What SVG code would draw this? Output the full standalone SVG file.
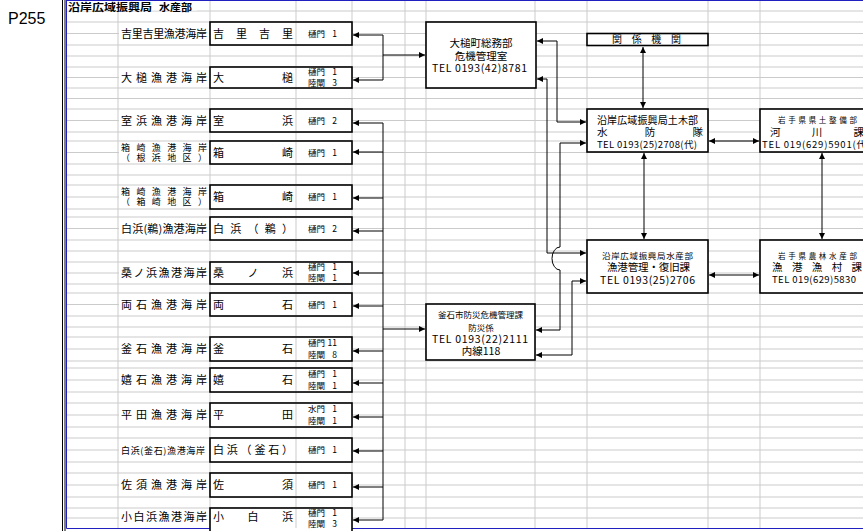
<svg xmlns="http://www.w3.org/2000/svg" width="863" height="531" viewBox="0 0 863 531">
<style>
.g{stroke:#cbcbcb;stroke-width:1;fill:none}
.box{fill:#fff;stroke:#000;stroke-width:1.6}
.cell{fill:#fff}
.t{font-family:"Noto Sans CJK JP","Noto Sans CJK SC",sans-serif;fill:#000}
.a{font-family:"Liberation Sans",Arial,sans-serif;fill:#000}
.c{stroke:#000;stroke-width:1;fill:none}
.ae{marker-end:url(#ah)}
.ab{marker-start:url(#ah);marker-end:url(#ah)}
.l{font-size:11px}
.s{font-size:8.5px}
</style>
<defs>
<marker id="ah" markerUnits="userSpaceOnUse" markerWidth="7" markerHeight="6" refX="6" refY="3" orient="auto-start-reverse"><path d="M0,0 L6,3 L0,6 z" fill="#000"/></marker>
</defs>
<rect width="863" height="531" fill="#fff"/>
<g id="grid">
<path class="g" d="M66,11H863M66,22H863M66,33.5H863M66,45H863M66,56H863M66,67H863M66,77.5H863M66,88H863M66,98.5H863M66,109H863M66,120.5H863M66,132H863M66,141H863M66,152.5H863M66,164H863M66,175H863M66,185H863M66,197H863M66,209H863M66,217H863M66,228.5H863M66,240H863M66,251H863M66,262H863M66,273H863M66,284H863M66,293H863M66,304.5H863M66,316H863M66,327H863M66,337H863M66,349H863M66,361H863M66,368H863M66,380H863M66,392H863M66,403H863M66,415H863M66,427H863M66,438H863M66,450H863M66,462H863M66,473H863M66,485H863M66,497H863M66,508H863M66,518H863"/>
<path class="g" d="M118,11V528M210,0V528M296,0V528M352,0V528M405,0V528M426,0V528M535,0V528M587,0V528M708,0V528M760,0V528"/>
<rect x="67" y="1" width="130" height="9.5" fill="#fff"/>
<path d="M62.5,0V531M65,0V531" stroke="#000" stroke-width="1"/>
<path d="M66.5,0V528.5H863M66.5,0.5H863" stroke="#2020c0" stroke-width="1" fill="none"/>
<text class="a" x="8" y="24" font-size="16">P255</text>
<text class="t" x="68" y="10.5" font-size="10" font-weight="bold" textLength="84" lengthAdjust="spacingAndGlyphs">沿岸広域振興局</text>
<text class="t" x="159" y="10.5" font-size="10" font-weight="bold" textLength="33" lengthAdjust="spacingAndGlyphs">水産部</text>
</g>
<g id="n-kirikiri">
<rect class="cell" x="119" y="23" width="90" height="21"/>
<text class="t l" x="121" y="37.7" textLength="86" lengthAdjust="spacing">吉里吉里漁港海岸</text>
<rect class="box" x="210" y="22" width="142" height="23"/><path class="g" d="M296,23V44"/>
<text class="t l" x="213" y="37.7" textLength="80" lengthAdjust="spacing">吉里吉里</text>
<text class="t s" x="308" y="36.7">樋門</text><text class="t s" x="337" y="36.7" text-anchor="end">1</text>
</g>
<g id="n-otsuchi">
<rect class="cell" x="119" y="68" width="90" height="19"/>
<text class="t l" x="121" y="81.7" textLength="86" lengthAdjust="spacing">大槌漁港海岸</text>
<rect class="box" x="210" y="67" width="142" height="21"/><path class="g" d="M296,68V87"/>
<text class="t l" x="213" y="81.7" textLength="80" lengthAdjust="spacing">大槌</text>
<text class="t s" x="308" y="74.7">樋門</text><text class="t s" x="337" y="74.7" text-anchor="end">1</text>
<text class="t s" x="308" y="86">陸閘</text><text class="t s" x="337" y="86" text-anchor="end">3</text>
</g>
<g id="n-murohama">
<rect class="cell" x="119" y="110" width="90" height="21"/>
<text class="t l" x="121" y="124.7" textLength="86" lengthAdjust="spacing">室浜漁港海岸</text>
<rect class="box" x="210" y="109" width="142" height="23"/><path class="g" d="M296,110V131"/>
<text class="t l" x="213" y="124.7" textLength="80" lengthAdjust="spacing">室浜</text>
<text class="t s" x="308" y="123.7">樋門</text><text class="t s" x="337" y="123.7" text-anchor="end">2</text>
</g>
<g id="n-hakozaki-nehama">
<rect class="cell" x="119" y="142" width="90" height="21"/>
<text class="t" font-size="9" x="121" y="150.5" textLength="86" lengthAdjust="spacing">箱崎漁港海岸</text>
<text class="t" font-size="9" x="121" y="160.8" textLength="86" lengthAdjust="spacing">（根浜地区）</text>
<rect class="box" x="210" y="141" width="142" height="23"/><path class="g" d="M296,142V163"/>
<text class="t l" x="213" y="156.7" textLength="80" lengthAdjust="spacing">箱崎</text>
<text class="t s" x="308" y="155.7">樋門</text><text class="t s" x="337" y="155.7" text-anchor="end">1</text>
</g>
<g id="n-hakozaki">
<rect class="cell" x="119" y="186" width="90" height="22"/>
<text class="t" font-size="9" x="121" y="195.2" textLength="86" lengthAdjust="spacing">箱崎漁港海岸</text>
<text class="t" font-size="9" x="121" y="205.2" textLength="86" lengthAdjust="spacing">（箱崎地区）</text>
<rect class="box" x="210" y="185" width="142" height="24"/><path class="g" d="M296,186V208"/>
<text class="t l" x="213" y="201.2" textLength="80" lengthAdjust="spacing">箱崎</text>
<text class="t s" x="308" y="200.2">樋門</text><text class="t s" x="337" y="200.2" text-anchor="end">1</text>
</g>
<g id="n-shirahama-u">
<rect class="cell" x="119" y="218" width="90" height="21"/>
<text class="t l" x="121" y="232.7" textLength="86" lengthAdjust="spacing">白浜(鵜)漁港海岸</text>
<rect class="box" x="210" y="217" width="142" height="23"/><path class="g" d="M296,218V239"/>
<text class="t l" x="213" y="232.7" textLength="80" lengthAdjust="spacing">白浜（鵜）</text>
<text class="t s" x="308" y="231.7">樋門</text><text class="t s" x="337" y="231.7" text-anchor="end">2</text>
</g>
<g id="n-kuwanohama">
<rect class="cell" x="119" y="263" width="90" height="20"/>
<text class="t l" x="121" y="277.2" textLength="86" lengthAdjust="spacing">桑ノ浜漁港海岸</text>
<rect class="box" x="210" y="262" width="142" height="22"/><path class="g" d="M296,263V283"/>
<text class="t l" x="213" y="277.2" textLength="80" lengthAdjust="spacing">桑ノ浜</text>
<text class="t s" x="308" y="269.5">樋門</text><text class="t s" x="337" y="269.5" text-anchor="end">1</text>
<text class="t s" x="308" y="281">陸閘</text><text class="t s" x="337" y="281" text-anchor="end">1</text>
</g>
<g id="n-ryoishi">
<rect class="cell" x="119" y="294" width="90" height="21"/>
<text class="t l" x="121" y="308.7" textLength="86" lengthAdjust="spacing">両石漁港海岸</text>
<rect class="box" x="210" y="293" width="142" height="23"/><path class="g" d="M296,294V315"/>
<text class="t l" x="213" y="308.7" textLength="80" lengthAdjust="spacing">両石</text>
<text class="t s" x="308" y="307.7">樋門</text><text class="t s" x="337" y="307.7" text-anchor="end">1</text>
</g>
<g id="n-kamaishi">
<rect class="cell" x="119" y="338" width="90" height="22"/>
<text class="t l" x="121" y="353.2" textLength="86" lengthAdjust="spacing">釜石漁港海岸</text>
<rect class="box" x="210" y="337" width="142" height="24"/><path class="g" d="M296,338V360"/>
<text class="t l" x="213" y="353.2" textLength="80" lengthAdjust="spacing">釜石</text>
<text class="t s" x="308" y="346">樋門</text><text class="t s" x="337" y="346" text-anchor="end">11</text>
<text class="t s" x="308" y="358">陸閘</text><text class="t s" x="337" y="358" text-anchor="end">8</text>
</g>
<g id="n-ureishi">
<rect class="cell" x="119" y="369" width="90" height="22"/>
<text class="t l" x="121" y="384.2" textLength="86" lengthAdjust="spacing">嬉石漁港海岸</text>
<rect class="box" x="210" y="368" width="142" height="24"/><path class="g" d="M296,369V391"/>
<text class="t l" x="213" y="384.2" textLength="80" lengthAdjust="spacing">嬉石</text>
<text class="t s" x="308" y="377">樋門</text><text class="t s" x="337" y="377" text-anchor="end">1</text>
<text class="t s" x="308" y="389">陸閘</text><text class="t s" x="337" y="389" text-anchor="end">1</text>
</g>
<g id="n-heita">
<rect class="cell" x="119" y="404" width="90" height="22"/>
<text class="t l" x="121" y="419.2" textLength="86" lengthAdjust="spacing">平田漁港海岸</text>
<rect class="box" x="210" y="403" width="142" height="24"/><path class="g" d="M296,404V426"/>
<text class="t l" x="213" y="419.2" textLength="80" lengthAdjust="spacing">平田</text>
<text class="t s" x="308" y="412">水門</text><text class="t s" x="337" y="412" text-anchor="end">1</text>
<text class="t s" x="308" y="424">陸閘</text><text class="t s" x="337" y="424" text-anchor="end">1</text>
</g>
<g id="n-shirahama-kamaishi">
<rect class="cell" x="119" y="439" width="90" height="22"/>
<text class="t" font-size="9" x="121" y="453.5" textLength="84" lengthAdjust="spacing">白浜(釜石)漁港海岸</text>
<rect class="box" x="210" y="438" width="142" height="24"/><path class="g" d="M296,439V461"/>
<text class="t l" x="213" y="454.2" textLength="80" lengthAdjust="spacing">白浜（釜石）</text>
<text class="t s" x="308" y="453.2">樋門</text><text class="t s" x="337" y="453.2" text-anchor="end">1</text>
</g>
<g id="n-sasu">
<rect class="cell" x="119" y="474" width="90" height="22"/>
<text class="t l" x="121" y="489.2" textLength="86" lengthAdjust="spacing">佐須漁港海岸</text>
<rect class="box" x="210" y="473" width="142" height="24"/><path class="g" d="M296,474V496"/>
<text class="t l" x="213" y="489.2" textLength="80" lengthAdjust="spacing">佐須</text>
<text class="t s" x="308" y="488.2">樋門</text><text class="t s" x="337" y="488.2" text-anchor="end">1</text>
</g>
<g id="n-kojirahama">
<rect class="cell" x="119" y="509" width="90" height="19"/>
<text class="t l" x="121" y="520.5" textLength="86" lengthAdjust="spacing">小白浜漁港海岸</text>
<rect class="box" x="210" y="508" width="142" height="24"/><path class="g" d="M296,509V528"/>
<text class="t l" x="213" y="520.5" textLength="80" lengthAdjust="spacing">小白浜</text>
<text class="t s" x="308" y="515.5">樋門</text><text class="t s" x="337" y="515.5" text-anchor="end">1</text>
<text class="t s" x="308" y="526.5">陸閘</text><text class="t s" x="337" y="526.5" text-anchor="end">3</text>
</g>
<g id="n-otsuchi-town">
<rect class="box" x="426" y="22" width="110" height="66"/>
<text class="t" font-size="10.5" x="481" y="47" text-anchor="middle">大槌町総務部</text>
<text class="t" font-size="10.5" x="481" y="59.5" text-anchor="middle">危機管理室</text>
<text class="t" font-size="10.5" x="432" y="71.5" textLength="95" lengthAdjust="spacing">TEL  0193(42)8781</text>
</g>
<g id="n-kamaishi-city">
<rect class="box" x="426" y="304" width="109" height="56"/>
<text class="t" font-size="8.5" x="438" y="318" textLength="85" lengthAdjust="spacing">釜石市防災危機管理課</text>
<text class="t" font-size="8.5" x="481" y="330.5" text-anchor="middle">防災係</text>
<text class="t" font-size="10.5" x="432" y="342.5" textLength="96" lengthAdjust="spacing">TEL  0193(22)2111</text>
<text class="t" font-size="10.5" x="481" y="354.5" text-anchor="middle">内線118</text>
</g>
<g id="n-kankei">
<rect class="box" x="587" y="33.5" width="121" height="12"/>
<text class="t" font-size="10" x="612" y="43.3" textLength="69" lengthAdjust="spacing">関係機関</text>
</g>
<g id="n-doboku">
<rect class="box" x="587" y="109" width="121" height="43"/>
<text class="t" font-size="10" x="597" y="124" textLength="101" lengthAdjust="spacing">沿岸広域振興局土木部</text>
<text class="t" font-size="10.5" x="597" y="136" textLength="106" lengthAdjust="spacing">水防隊</text>
<text class="t" font-size="9.5" x="597" y="147.5" textLength="100" lengthAdjust="spacing">TEL  0193(25)2708(代)</text>
</g>
<g id="n-suisan">
<rect class="box" x="587" y="240" width="121" height="53"/>
<text class="t" font-size="8.5" x="602" y="258.5" textLength="91" lengthAdjust="spacing">沿岸広域振興局水産部</text>
<text class="t" font-size="10.5" x="607" y="271" textLength="83" lengthAdjust="spacing">漁港管理・復旧課</text>
<text class="t" font-size="10.5" x="600" y="283.5" textLength="95" lengthAdjust="spacing">TEL  0193(25)2706</text>
</g>
<g id="n-kendo">
<rect class="box" x="760" y="109" width="120" height="43"/>
<text class="t" font-size="7.5" x="778" y="123" textLength="79" lengthAdjust="spacing">岩手県県土整備部</text>
<text class="t" font-size="10.5" x="770" y="136" textLength="94" lengthAdjust="spacing">河川課</text>
<text class="t" font-size="9.5" x="762" y="147.5" textLength="108" lengthAdjust="spacing">TEL  019(629)5901(代)</text>
</g>
<g id="n-gyoko">
<rect class="box" x="760" y="240" width="120" height="53"/>
<text class="t" font-size="7.5" x="778" y="258.5" textLength="79" lengthAdjust="spacing">岩手県農林水産部</text>
<text class="t" font-size="10.5" x="772" y="271" textLength="90" lengthAdjust="spacing">漁港漁村課</text>
<text class="t" font-size="9.5" x="772" y="282.5" textLength="84" lengthAdjust="spacing">TEL  019(629)5830</text>
</g>
<g id="connectors">
<path class="c" d="M383,35V80"/>
<path class="c ae" d="M383,35H353"/>
<path class="c ae" d="M383,80H353"/>
<path class="c ae" d="M383,55H425"/>
<path class="c" d="M383,123V520"/>
<path class="c ae" d="M383,123H353"/>
<path class="c ae" d="M383,152H353"/>
<path class="c ae" d="M383,198H353"/>
<path class="c ae" d="M383,231H353"/>
<path class="c ae" d="M383,273H353"/>
<path class="c ae" d="M383,306H353"/>
<path class="c ae" d="M383,351H353"/>
<path class="c ae" d="M383,383H353"/>
<path class="c ae" d="M383,417H353"/>
<path class="c ae" d="M383,451H353"/>
<path class="c ae" d="M383,487H353"/>
<path class="c ae" d="M383,520H353"/>
<path class="c ae" d="M383,329H425"/>
<path class="c ab" d="M537,41H557V122H586"/>
<path class="c ab" d="M537,79H547V253H586"/>
<path class="c ab" d="M536,330H560V270A8,11.5 0 0 1 560,247V143H586"/>
<path class="c ab" d="M536,355H572V281H586"/>
<path class="c ab" d="M643,47V108"/>
<path class="c ab" d="M644,153V239"/>
<path class="c ab" d="M709,141H759"/>
<path class="c ab" d="M709,275H759"/>
<path class="c ab" d="M822,153V239"/>
</g>
</svg>
